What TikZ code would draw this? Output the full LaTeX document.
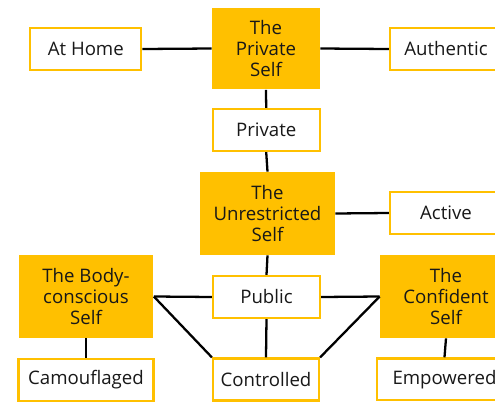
\documentclass[tikz,border=0pt]{standalone}
\usepackage{fontspec}
\setmainfont{Open Sans}
\definecolor{gold}{RGB}{255,192,0}
\definecolor{ink}{RGB}{24,24,24}

\begin{document}
\begin{tikzpicture}[x=0.02cm, y=-0.02cm,
    core/.style={rectangle, fill=gold, inner sep=0pt, align=center,
                 text=ink, font=\fontsize{10.6}{11.8}\selectfont},
    facet/.style={rectangle, draw=gold, fill=white, line width=1.25pt,
                  inner sep=0pt, minimum height=0.84cm, text=ink,
                  font=\fontsize{10.6}{11.8}\selectfont},
    leg/.style={draw=black, line width=1.3pt}]
  \useasboundingbox (0,0) rectangle (495,403);
  % the four selves
  \node[core, minimum width=2.16cm, minimum height=1.64cm] (prv) at (266,48.5) {The\\Private\\Self};
  \node[core, minimum width=2.70cm, minimum height=1.66cm] (unr) at (267.5,213.5) {The\\Unrestricted\\Self};
  \node[core, minimum width=2.70cm, minimum height=1.66cm] (body) at (86,296.5) {The Body-\\conscious\\Self};
  \node[core, minimum width=2.64cm, minimum height=1.66cm] (conf) at (446,296.5) {The\\Confident\\Self};
  % facets
  \foreach \n/\x/\y/\w/\t in {home/85.8/49/2.22/At Home, auth/446/49/2.24/Authentic,
      priv/266.2/130/2.14/Private, act/446/213/2.24/Active,
      pub/266.5/297/2.14/Public, ctrl/266/379.5/2.12/Controlled,
      cam/86/379.7/2.70/Camouflaged, emp/444.5/379.4/2.70/Empowered}
    { \node[facet, minimum width=\w cm] (\n) at (\x,\y) {\t}; }
  % connectors
  \foreach \a/\b in {home.east/prv.west, prv.east/auth.west, prv.south/priv.north,
      priv.south/unr.north, unr.east/act.west, unr.south/pub.north,
      body.east/pub.west, pub.east/conf.west, pub.south/ctrl.north,
      body.east/ctrl.north west, conf.west/ctrl.north east,
      body.south/cam.north, conf.south/emp.north}
    { \draw[leg] (\a) -- (\b); }
\end{tikzpicture}
\end{document}
